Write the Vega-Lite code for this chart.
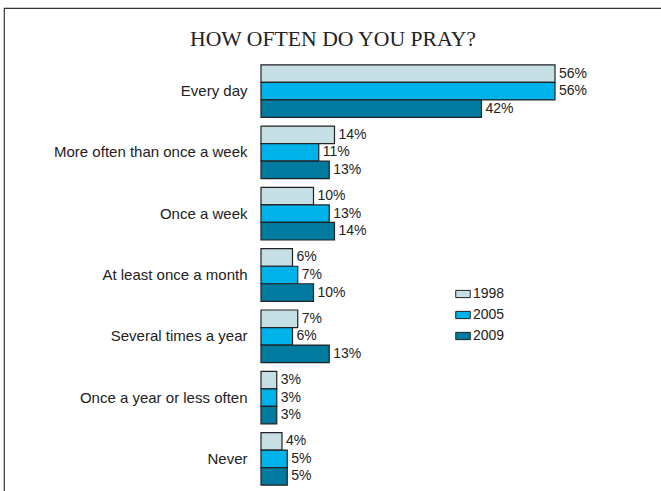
{
  "$schema": "https://vega.github.io/schema/vega-lite/v6.json",
  "width": 658,
  "height": 484,
  "autosize": {"type": "none"},
  "padding": {"left": 4, "top": 8, "right": 0, "bottom": 0},
  "background": "white",
  "config": {
    "view": {"stroke": "#333", "strokeWidth": 1.2},
    "font": "Liberation Sans"
  },
  "title": {
    "text": "HOW OFTEN DO YOU PRAY?",
    "font": "Liberation Serif",
    "fontSize": 21.7,
    "fontWeight": "normal",
    "color": "#222",
    "anchor": "middle",
    "frame": "group",
    "offset": -43
  },
  "data": {
    "values": [
      {"category": "Every day", "year": "1998", "value": 0.56},
      {"category": "Every day", "year": "2005", "value": 0.56},
      {"category": "Every day", "year": "2009", "value": 0.42},
      {"category": "More often than once a week", "year": "1998", "value": 0.14},
      {"category": "More often than once a week", "year": "2005", "value": 0.11},
      {"category": "More often than once a week", "year": "2009", "value": 0.13},
      {"category": "Once a week", "year": "1998", "value": 0.10},
      {"category": "Once a week", "year": "2005", "value": 0.13},
      {"category": "Once a week", "year": "2009", "value": 0.14},
      {"category": "At least once a month", "year": "1998", "value": 0.06},
      {"category": "At least once a month", "year": "2005", "value": 0.07},
      {"category": "At least once a month", "year": "2009", "value": 0.10},
      {"category": "Several times a year", "year": "1998", "value": 0.07},
      {"category": "Several times a year", "year": "2005", "value": 0.06},
      {"category": "Several times a year", "year": "2009", "value": 0.13},
      {"category": "Once a year or less often", "year": "1998", "value": 0.03},
      {"category": "Once a year or less often", "year": "2005", "value": 0.03},
      {"category": "Once a year or less often", "year": "2009", "value": 0.03},
      {"category": "Never", "year": "1998", "value": 0.04},
      {"category": "Never", "year": "2005", "value": 0.05},
      {"category": "Never", "year": "2009", "value": 0.05}
    ]
  },
  "encoding": {
    "y": {
      "field": "category",
      "type": "nominal",
      "sort": ["Every day", "More often than once a week", "Once a week", "At least once a month", "Several times a year", "Once a year or less often", "Never"],
      "scale": {"paddingInner": 0.142, "paddingOuter": 0.519, "align": 0.893},
      "axis": {
        "title": null,
        "domain": false,
        "ticks": false,
        "offset": -257,
        "labelPadding": 14,
        "labelFontSize": 15,
        "labelLimit": 400,
        "labelColor": "#222",
        "labelFont": "Liberation Sans"
      }
    },
    "yOffset": {"field": "year", "type": "nominal", "scale": {"paddingInner": 0}},
    "x": {
      "field": "value",
      "type": "quantitative",
      "scale": {"domain": [-0.489524, 0.763810], "nice": false, "zero": false},
      "axis": null
    }
  },
  "layer": [
    {
      "mark": {"type": "bar", "stroke": "#222", "strokeWidth": 1.2},
      "encoding": {
        "x2": {"datum": 0},
        "color": {
          "field": "year",
          "type": "nominal",
          "scale": {"domain": ["1998", "2005", "2009"], "range": ["#c6dfe5", "#00b2ea", "#007a9e"]},
          "legend": {
            "title": null,
            "orient": "none",
            "legendX": 451,
            "legendY": 278,
            "symbolType": "M-1,-0.5H1V0.5H-1Z",
            "symbolSize": 210,
            "symbolStrokeColor": "#222",
            "symbolStrokeWidth": 1,
            "labelFontSize": 14,
            "labelColor": "#222",
            "labelOffset": 2,
            "rowPadding": 6
          }
        }
      }
    },
    {
      "mark": {"type": "text", "align": "left", "baseline": "middle", "dx": 4, "fontSize": 14, "color": "#222"},
      "encoding": {"text": {"field": "value", "format": ".0%"}}
    }
  ]
}
